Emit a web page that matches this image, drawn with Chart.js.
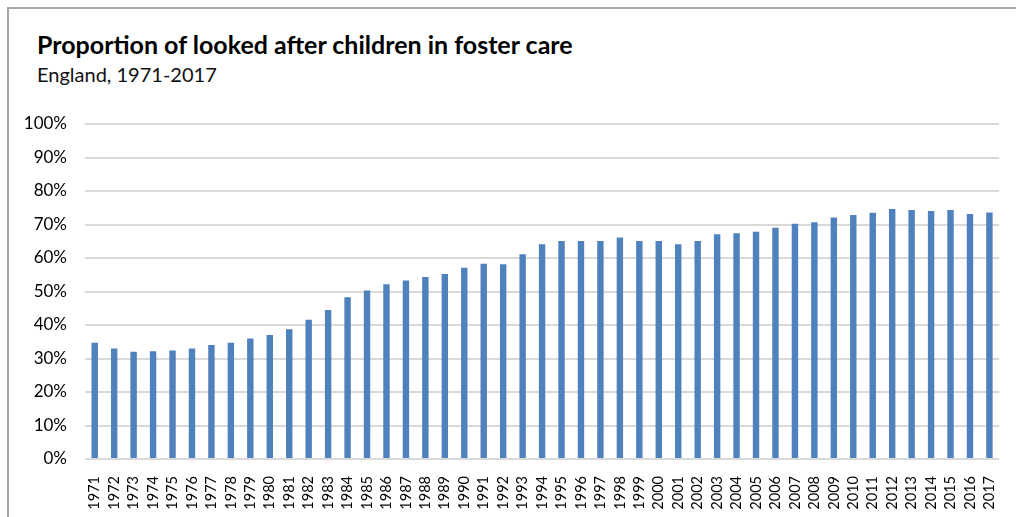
<!DOCTYPE html>
<html>
<head>
<meta charset="utf-8">
<script src="https://cdn.jsdelivr.net/npm/chart.js@4"></script>
<style>
    html, body { margin: 0; padding: 0; background: #fff; }
    #frame {
        position: absolute; left: 7px; top: 7px; width: 1009px; height: 510px;
        border-top: 2px solid #a6a6a6; border-left: 2px solid #a6a6a6;
    }
    #title {
        position: absolute; left: 37px; top: 29px;
        font-family: Lato, sans-serif; font-weight: bold; font-size: 25px; color: #000;
        white-space: nowrap;
    }
    #subtitle {
        position: absolute; left: 37px; top: 62px;
        font-family: Lato, sans-serif; font-size: 20px; color: #111;
        white-space: nowrap;
    }
    #wrap { position: absolute; left: 0; top: 0; width: 1016px; height: 517px; }
</style>
</head>
<body>
<div id="frame"></div>
<div id="title">Proportion of looked after children in foster care</div>
<div id="subtitle">England, 1971-2017</div>
<div id="wrap"><canvas id="myChart"></canvas></div>
<script>
// Años y proporción (%) de niños en acogimiento familiar
const years = [
    '1971', '1972', '1973', '1974', '1975', '1976', '1977', '1978', '1979', '1980',
    '1981', '1982', '1983', '1984', '1985', '1986', '1987', '1988', '1989', '1990',
    '1991', '1992', '1993', '1994', '1995', '1996', '1997', '1998', '1999', '2000',
    '2001', '2002', '2003', '2004', '2005', '2006', '2007', '2008', '2009', '2010',
    '2011', '2012', '2013', '2014', '2015', '2016', '2017'
];
const fosterShare = [
    34.7, 33.0, 32.0, 32.2, 32.4, 33.0, 34.0, 34.7, 36.0, 37.0,
    38.7, 41.6, 44.5, 48.3, 50.3, 52.2, 53.3, 54.3, 55.2, 57.1,
    58.3, 58.1, 61.1, 64.1, 65.1, 65.1, 65.1, 66.1, 65.1, 65.1,
    64.1, 65.1, 67.1, 67.4, 67.8, 69.0, 70.2, 70.7, 72.1, 72.8,
    73.5, 74.6, 74.3, 74.0, 74.3, 73.1, 73.6
];
const yTicks = [0, 10, 20, 30, 40, 50, 60, 70, 80, 90, 100];

const ctx = document.getElementById('myChart');
new Chart(ctx, {
    type: 'bar',
    data: {
        labels: years,
        datasets: [{
            label: 'Foster care',
            data: fosterShare,
            backgroundColor: 'rgb(79, 129, 189)',
            borderWidth: 0,
            categoryPercentage: 1,
            barPercentage: 0.33
        }]
    },
    options: {
        responsive: true,
        maintainAspectRatio: false,
        animation: false,
        layout: {
            padding: { top: 124, right: 16, bottom: 0, left: 0 }
        },
        plugins: {
            legend: { display: false },
            tooltip: { enabled: false }
        },
        scales: {
            x: {
                grid: { display: false },
                border: { display: false },
                ticks: {
                    autoSkip: false,
                    minRotation: 90,
                    maxRotation: 90,
                    padding: 9,
                    color: '#000',
                    font: { family: 'Lato', size: 14.5 }
                },
                afterFit: function (axis) { axis.height = 58; }
            },
            y: {
                min: 0,
                max: 100,
                afterBuildTicks: function (axis) {
                    axis.ticks = yTicks.map(v => ({ value: v }));
                },
                grid: { color: '#d9d9d9', lineWidth: 2, drawTicks: false },
                border: { display: false },
                ticks: {
                    padding: 18,
                    color: '#000',
                    font: { family: 'Lato', size: 17 },
                    callback: function (v) { return v + '%'; }
                },
                afterFit: function (axis) { axis.width = 85; }
            }
        }
    }
});
</script>
</body>
</html>
